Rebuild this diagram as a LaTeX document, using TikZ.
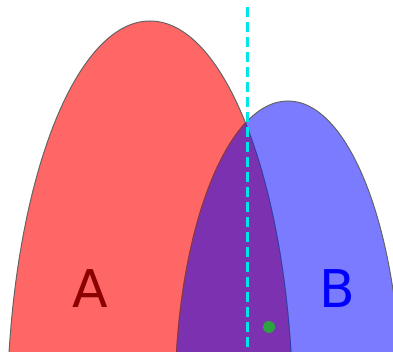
\documentclass[tikz,border=0pt]{standalone}
\usepackage{fontspec}
\setmainfont{DejaVu Sans}
\definecolor{redfill}{RGB}{255,102,102}
\definecolor{bluefill}{RGB}{123,123,255}
\definecolor{purplefill}{RGB}{124,49,176}
\definecolor{edgegray}{RGB}{100,100,100}
\definecolor{edgeblue}{RGB}{55,55,190}
\definecolor{edgered}{RGB}{150,45,70}
\definecolor{dashcyan}{RGB}{0,229,229}
\definecolor{dotgreen}{RGB}{44,162,64}
\definecolor{labelred}{RGB}{139,0,0}
\definecolor{labelblue}{RGB}{0,0,255}
\tikzset{
  outline/.style={draw=edgegray, line width=1pt},
  lbl/.style={font=\fontsize{52}{52}\selectfont, inner sep=0pt}
}
\begin{document}
\begin{tikzpicture}[x=1pt,y=-1pt]
\useasboundingbox (0,0) rectangle (393,352);
\clip (0,0) rectangle (393,352);
\def\redell{(150,420) ellipse [x radius=143pt, y radius=399pt]}
\def\blueell{(288,401) ellipse [x radius=113pt, y radius=300pt]}
\fill[redfill] \redell;
\fill[bluefill] \blueell;
\begin{scope}
  \clip \redell;
  \fill[purplefill] \blueell;
\end{scope}
\draw[outline] \redell;
\draw[outline] \blueell;
\begin{scope}
  \clip \blueell;
  \draw[edgeblue, line width=1pt] \redell;
\end{scope}
\begin{scope}
  \clip \redell;
  \draw[edgered, line width=1pt] \blueell;
\end{scope}
\coordinate (top) at (247,7);
\coordinate (bot) at (247,352);
\draw[dashcyan, line width=3pt, dash pattern=on 10pt off 5pt] (top) -- (bot);
\fill[dotgreen] (269,327) circle [radius=6pt];
\node[lbl, text=labelred] (A) at (90,289) {A};
\node[lbl, text=labelblue] (B) at (337,289) {B};
\end{tikzpicture}
\end{document}
